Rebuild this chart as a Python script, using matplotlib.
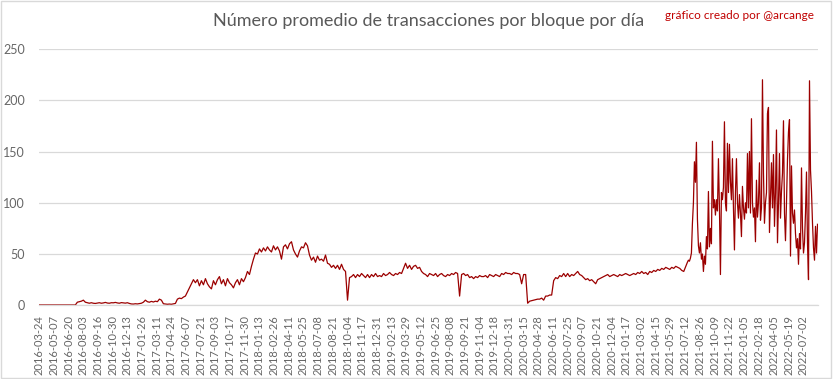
import matplotlib
matplotlib.use("Agg")
import matplotlib.pyplot as plt
import matplotlib.patches as mpatches
import pandas as pd
import numpy as np

# ---- data ----
start_a = "2016-03-24"
step_a_days = 6
values_a = [
    0.3, 0.3, 0.3, 0.3, 0.3, 0.3, 0.3, 0.3, 0.3, 0.3, 0.3, 0.3, 0.3, 0.3, 0.3, 0.3, 0.3, 0.3, 0.3,
    3, 3.5, 4, 5, 3, 2.5,
    2, 2.5, 2, 1.8, 2.2, 2.5, 2, 2.3, 2.8, 2.2, 2, 2.5, 2.4, 2.8, 2.3, 2, 2.6, 2.3, 2.1, 2.5,
    1.8, 1.3, 1.2, 1.5, 1.3, 1.6, 2,
    3, 5, 3.5, 3, 3.8, 3.2, 4, 3.5, 6, 5,
    1.5, 1.2, 1, 1.2, 1, 1.4, 1.8,
    6, 7, 6.5, 8, 9, 13, 17, 21, 25,
    22, 25, 19, 24, 20, 26, 21, 18, 16,
    24, 20, 25, 28, 21, 25, 19, 26, 22, 20, 17,
    22, 25, 20, 26, 23, 27, 33, 30, 38, 45, 51,
    50, 55, 52, 56, 53, 57, 54, 52, 58, 54, 57, 53, 45,
    57, 59, 55, 60, 62, 54, 50, 47, 53, 57, 56, 61, 58, 49, 44,
    47, 42, 48, 44, 45, 43, 49, 41,
    40, 37, 39, 36, 39, 35, 40, 35, 33, 5, 27,
    28, 30, 27, 30, 28, 31, 29, 27, 30, 27, 30, 28, 31, 28, 29, 28, 31, 29, 30, 32, 30, 29, 31, 30, 32, 31,
    36, 41, 36, 39, 35, 38, 39, 36, 37, 33, 31,
    30, 28, 31, 30, 29, 31, 28, 30, 31, 29, 28, 30, 29, 31, 30, 32, 31, 9,
    30, 31, 29, 30, 27, 28, 26, 28, 27, 29, 28,
    28, 29, 27, 30, 29, 28, 30, 29, 28,
    31, 30, 32, 31, 31, 30, 32, 31, 31, 30, 21, 30, 30, 2,
    4, 4.5, 5, 5.5, 6, 6, 7, 5, 9, 9, 10, 10, 24,
    27, 26, 29, 28, 31, 28, 31, 28, 30, 29, 31, 33, 30, 29,
    27, 25, 26, 24, 25, 23, 21, 25, 26, 27,
    28, 29, 30, 28, 29, 30, 29, 28, 30, 29, 30, 31, 30, 29, 30,
    31, 30, 32, 31, 33, 31, 32, 30, 33, 32, 34, 33,
    35, 34, 36, 35, 37, 36, 35, 37, 36, 38, 37, 36, 34, 33, 38,
]

start_b = "2021-07-19"
step_b_days = 3
values_b = [
    42, 44, 43, 46, 51, 80, 100, 140, 120, 159, 84, 58, 51, 61, 45, 50, 33, 48, 40, 67,
    55, 111, 57, 75, 60, 160, 95, 103, 88, 103, 92, 143, 95, 30, 110, 103, 115, 179, 100, 92,
    158, 110, 157, 120, 103, 143, 95, 54, 110, 143, 100, 85, 108, 90, 67, 116, 95, 84, 100, 90,
    148, 95, 150, 90, 182, 100, 86, 95, 62, 122, 86, 100, 139, 83, 95, 220, 129, 80, 100, 110,
    187, 193, 71, 105, 139, 95, 147, 77, 110, 171, 61, 100, 148, 85, 111, 129, 180, 90, 63, 100,
    142, 169, 181, 48, 136, 90, 80, 93, 70, 56, 65, 40, 70, 55, 134, 75, 51, 61, 90, 130,
    60, 25, 219, 132, 111, 80, 56, 44, 77, 51, 79,
]

tick_labels = [
    "2016-03-24", "2016-05-07", "2016-06-20", "2016-08-03", "2016-09-16", "2016-10-30",
    "2016-12-13", "2017-01-26", "2017-03-11", "2017-04-24", "2017-06-07", "2017-07-21",
    "2017-09-03", "2017-10-17", "2017-11-30", "2018-01-13", "2018-02-26", "2018-04-11",
    "2018-05-25", "2018-07-08", "2018-08-21", "2018-10-04", "2018-11-17", "2018-12-31",
    "2019-02-13", "2019-03-29", "2019-05-12", "2019-06-25", "2019-08-08", "2019-09-21",
    "2019-11-04", "2019-12-18", "2020-01-31", "2020-03-15", "2020-04-28", "2020-06-11",
    "2020-07-25", "2020-09-07", "2020-10-21", "2020-12-04", "2021-01-17", "2021-03-02",
    "2021-04-15", "2021-05-29", "2021-07-12", "2021-08-26", "2021-10-09", "2021-11-22",
    "2022-01-05", "2022-02-18", "2022-04-05", "2022-05-19", "2022-07-02",
]

title = "Número promedio de transacciones por bloque por día"
credit = "gráfico creado por @arcange"

# ---- build series ----
dates_a = pd.date_range(start_a, periods=len(values_a), freq=f"{step_a_days}D")
dates_b = pd.date_range(start_b, periods=len(values_b), freq=f"{step_b_days}D")
dates = dates_a.append(dates_b)
values = list(values_a) + list(values_b)

plt.rcParams["font.family"] = ["Lato", "DejaVu Sans"]
fig = plt.figure(figsize=(8.33, 3.79), dpi=100)
ax = fig.add_axes([0.0468, 0.1945, 0.935, 0.6762])

ax.plot(dates, values, color="#9B0000", linewidth=0.9)

ax.set_ylim(0, 250)
ax.set_yticks([0, 50, 100, 150, 200, 250])
ax.set_xlim(pd.Timestamp(start_a) - pd.Timedelta(days=1), dates[-1] + pd.Timedelta(days=1))
ax.set_xticks(pd.to_datetime(tick_labels))
ax.set_xticklabels(tick_labels, rotation=90)

ax.grid(axis="y", color="#D9D9D9", linewidth=0.9)
ax.set_axisbelow(True)
for s in ["top", "right", "left"]:
    ax.spines[s].set_visible(False)
ax.spines["bottom"].set_color("#D9D9D9")
ax.spines["bottom"].set_linewidth(0.9)
ax.tick_params(axis="y", length=0, pad=10, labelsize=9, labelcolor="#666666")
ax.tick_params(axis="x", length=0, pad=7, labelsize=8, labelcolor="#666666")

fig.text(0.514, 0.945, title, ha="center", va="center", fontsize=13, color="#595959")
fig.text(0.977, 0.96, credit, ha="right", va="center", fontsize=8.5, color="#C00000")

fig.patches.append(mpatches.Rectangle((0.001, 0.002), 0.996, 0.995, transform=fig.transFigure,
                                      fill=False, edgecolor="#D9D9D9", linewidth=1.0))

fig.savefig("out.png", dpi=100)
